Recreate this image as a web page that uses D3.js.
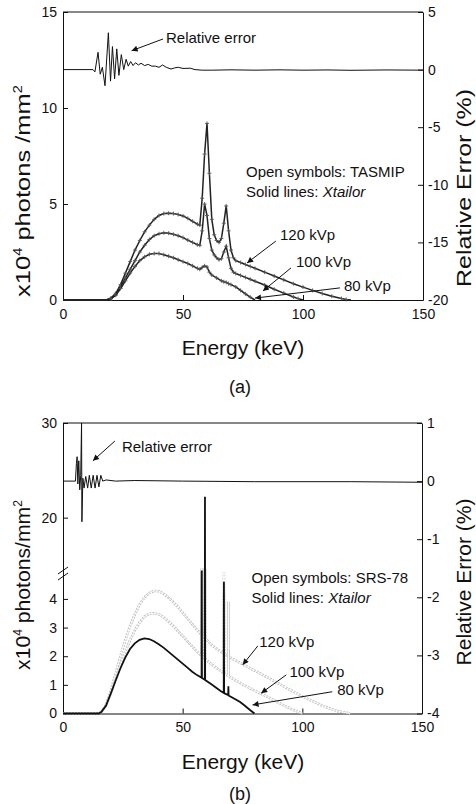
<!DOCTYPE html>
<html>
<head>
<meta charset="utf-8">
<title>X-ray spectra</title>
<style>
    body{ margin:0; padding:0; background:#fff; overflow:hidden; }
    svg text{ font-family:"Liberation Sans", Arial, Helvetica, sans-serif; fill:#111; }
</style>
</head>
<body>
<div id="chart"></div>
<script src="https://cdn.jsdelivr.net/npm/d3@7/dist/d3.min.js"></script>
<script>
// ---------- data: energy (keV) vs x10^4 photons/mm^2, relative error in % ----------
var energyTicks = [0, 50, 100, 150];
var leftTicksA = [0, 5, 10, 15];
var rightTicksA = [-20, -15, -10, -5, 0, 5];
var leftTicksB = [0, 1, 2, 3, 4, 20, 30];
var rightTicksB = [-4, -3, -2, -1, 0, 1];

// (a) TASMIP / Xtailor
var a120 = [[0,0],[10,0],[18,0],[20,0.1],[22,0.35],[24,0.8],[26,1.4],[28,2.0],[30,2.6],[32,3.1],[34,3.55],[36,3.9],[38,4.2],[40,4.4],[42,4.5],[44,4.52],[46,4.5],[48,4.45],[50,4.38],[52,4.25],[54,4.1],[56,3.95],[57,3.9],[58,5.3],[59,7.6],[60,9.2],[61,6.6],[62,4.2],[63,3.4],[64,3.1],[65,3.0],[66,3.2],[67,4.0],[68,4.9],[69,3.6],[70,2.6],[71,2.2],[72,2.05],[74,1.95],[76,1.85],[78,1.75],[80,1.65],[84,1.45],[88,1.25],[92,1.05],[96,0.85],[100,0.67],[104,0.5],[108,0.34],[112,0.2],[116,0.08],[118,0.03],[120,0]];
var a100 = [[0,0],[10,0],[18,0],[20,0.08],[22,0.3],[24,0.7],[26,1.15],[28,1.6],[30,2.05],[32,2.5],[34,2.85],[36,3.15],[38,3.35],[40,3.45],[42,3.5],[44,3.48],[46,3.42],[48,3.35],[50,3.25],[52,3.12],[54,3.0],[56,2.88],[57,2.85],[58,3.6],[59,5.0],[60,4.4],[61,3.2],[62,2.6],[63,2.35],[64,2.2],[65,2.1],[66,2.15],[67,2.5],[68,2.8],[69,2.2],[70,1.65],[71,1.45],[72,1.38],[74,1.28],[76,1.18],[78,1.08],[80,0.98],[84,0.78],[88,0.56],[92,0.36],[96,0.16],[98,0.07],[100,0]];
var a80 = [[0,0],[10,0],[18,0],[20,0.06],[22,0.25],[24,0.6],[26,1.0],[28,1.4],[30,1.75],[32,2.05],[34,2.25],[36,2.38],[38,2.42],[40,2.42],[42,2.36],[44,2.28],[46,2.2],[48,2.1],[50,2.0],[52,1.9],[54,1.78],[56,1.65],[57,1.6],[58,1.7],[59,1.78],[60,1.72],[61,1.45],[62,1.3],[64,1.15],[66,1.0],[67,0.95],[68,0.92],[69,0.85],[70,0.8],[72,0.68],[74,0.5],[76,0.32],[78,0.15],[80,0]];
var errA = [[0,0],[12.5,0],[13.3,-0.2],[14.6,1.5],[15.5,-0.4],[16.4,0.2],[17.5,-1.4],[18.9,3.2],[19.8,-1.0],[20.6,2.0],[21.5,-0.8],[22.4,1.8],[23.3,-0.5],[24.3,1.3],[25.3,0.0],[26.3,0.9],[27.2,0.3],[28.2,0.7],[29.2,0.35],[30.2,0.6],[31.4,0.4],[32.5,0.55],[34,0.35],[35.5,0.45],[37,0.3],[38.5,0.3],[40,0.2],[41.5,0.4],[43,0.2],[45,0.05],[46.5,0.15],[48,0.2],[50,0.1],[53,0.12],[55,0.0],[58,-0.05],[62,-0.05],[70,-0.02],[80,-0.05],[90,-0.02],[100,-0.05],[110,-0.03],[120,-0.06],[135,-0.03],[150,-0.05]];

// (b) SRS-78 / Xtailor (spikes = characteristic lines)
var b120 = [[0,0],[15,0],[16,0.05],[18,0.3],[20,0.8],[22,1.4],[24,2.0],[26,2.55],[28,3.05],[30,3.45],[32,3.8],[34,4.05],[36,4.2],[38,4.28],[40,4.27],[42,4.18],[44,4.05],[46,3.9],[48,3.72],[50,3.52],[52,3.32],[54,3.12],[56,2.92],[57.9,2.75],[57.98,12],[58.06,2.74],[59.24,2.64],[59.32,12],[59.4,2.63],[62,2.4],[64,2.27],[66,2.15],[67.16,2.09],[67.24,8],[67.32,2.08],[69.02,2.0],[69.1,3.9],[69.18,1.99],[72,1.86],[75,1.72],[80,1.5],[85,1.28],[90,1.05],[95,0.82],[100,0.6],[105,0.4],[110,0.22],[115,0.08],[120,0]];
var b100 = [[0,0],[15,0],[16,0.05],[18,0.28],[20,0.72],[22,1.2],[24,1.7],[26,2.15],[28,2.55],[30,2.9],[32,3.18],[34,3.38],[36,3.48],[38,3.5],[40,3.46],[42,3.36],[44,3.22],[46,3.06],[48,2.88],[50,2.7],[52,2.52],[54,2.34],[56,2.16],[57.9,2.02],[57.98,9],[58.06,2.01],[59.24,1.92],[59.32,11],[59.4,1.91],[62,1.72],[64,1.6],[66,1.48],[67.16,1.42],[67.24,4.2],[67.32,1.41],[69.02,1.31],[69.1,2.2],[69.18,1.3],[72,1.16],[75,1.02],[80,0.8],[85,0.6],[90,0.38],[95,0.17],[100,0]];
var b80 = [[0,0],[15,0],[16,0.05],[18,0.28],[20,0.7],[22,1.15],[24,1.58],[26,1.95],[28,2.25],[30,2.45],[32,2.57],[34,2.62],[36,2.6],[38,2.52],[40,2.42],[42,2.3],[44,2.16],[46,2.02],[48,1.88],[50,1.74],[52,1.6],[54,1.46],[56,1.34],[57.9,1.25],[57.98,10],[58.06,1.24],[59.24,1.18],[59.32,22.2],[59.4,1.17],[62,1.02],[64,0.9],[66,0.78],[67.16,0.72],[67.24,4.6],[67.32,0.71],[69.02,0.64],[69.1,0.95],[69.18,0.63],[72,0.5],[74,0.4],[76,0.27],[78,0.13],[80,0]];
var errB = [[0,0],[5.2,0],[5.6,0.3],[5.9,0.42],[6.2,-0.05],[6.6,0.35],[7.0,-0.15],[7.4,0.1],[7.75,1.0],[7.9,-0.7],[8.3,0.05],[8.8,-0.12],[9.5,0.08],[10.3,-0.12],[11.0,0.1],[11.8,-0.12],[12.6,0.1],[13.4,-0.12],[14.2,0.1],[15.0,-0.1],[15.8,0.1],[16.6,0.0],[18,0.02],[22,0],[30,0.01],[50,0],[80,-0.01],[120,-0.01],[150,-0.02]];

// annotation anchors, in data units (keV, left-axis value / error %)
var kvpA = [
    {label:'120 kVp', at:[90.4,3.12], from:[88.7,3.07], to:[76.7,1.93]},
    {label:'100 kVp', at:[97.1,1.72], from:[95,1.67], to:[83.3,0.47]},
    {label:'80 kVp',  at:[117.1,0.47], from:[115.4,0.63], to:[80,0.1]}
];
var kvpB = [
    {label:'120 kVp', at:[82,2.32], from:[81.4,2.36], to:[75.1,1.7]},
    {label:'100 kVp', at:[94.6,1.28], from:[93.3,1.35], to:[82.8,0.71]},
    {label:'80 kVp',  at:[114.6,0.65], from:[112.5,0.76], to:[79.2,0.3]}
];

var W = 476, H = 804;
var svg = d3.select('#chart').append('svg').attr('width', W).attr('height', H);

svg.append('defs').append('marker')
    .attr('id', 'arrow').attr('viewBox', '0 0 10 10')
    .attr('refX', 10).attr('refY', 5)
    .attr('markerWidth', 8).attr('markerHeight', 6)
    .attr('markerUnits', 'userSpaceOnUse')
    .attr('orient', 'auto')
  .append('path').attr('d', 'M0,0L10,5L0,10z').attr('fill', '#111');

function styleAxis(g){
    g.attr('font-family', null).attr('font-size', null);
    g.selectAll('text').style('font-size', '14px');
    g.selectAll('path,line').attr('stroke', '#111');
}

// parts: [text, dy, isSuperscript]
function vTitle(g, parts, cx, cy, len){
    var t = g.append('text').attr('text-anchor', 'middle').style('font-size', '21px');
    parts.forEach(function(p){
        var ts = t.append('tspan').text(p[0]);
        if (p[1]) ts.attr('dy', p[1]);
        if (p[2]) ts.style('font-size', '12px');
    });
    var w = t.node().getComputedTextLength();
    t.attr('transform', 'translate(' + cx + ',' + cy + ') rotate(-90) scale(' + (len / w) + ',1)');
}

function panel(p){
    var g = svg.append('g');
    var x = d3.scaleLinear().domain([0, 150]).range([63, p.right]);
    var y = p.y, e = p.err;
    var top = y.range()[y.range().length - 1], bottom = y.range()[0];

    // axes (ticks inward)
    g.append('g').attr('transform', 'translate(0,' + bottom + ')')
        .call(d3.axisBottom(x).tickValues(energyTicks).tickSizeInner(-5).tickSizeOuter(0).tickPadding(9))
        .call(styleAxis);
    g.append('g').attr('transform', 'translate(63,0)')
        .call(d3.axisLeft(y).tickValues(p.leftTicks).tickSizeInner(-5).tickSizeOuter(0).tickPadding(6))
        .call(styleAxis);
    g.append('g').attr('transform', 'translate(' + p.right + ',0)')
        .call(d3.axisRight(e).tickValues(p.rightTicks).tickFormat(function(d){ return String(d); })
            .tickSizeInner(-5).tickSizeOuter(0).tickPadding(5))
        .call(styleAxis);
    g.append('line').attr('x1', 63).attr('x2', p.right).attr('y1', top).attr('y2', top).attr('stroke', '#111');

    if (p.brk){
        var yb = p.brk;
        [0, 6].forEach(function(o){
            g.append('line').attr('x1', 58).attr('y1', yb + 4 + o).attr('x2', 68).attr('y2', yb - 3 + o)
                .attr('stroke', '#111').attr('stroke-width', 1);
        });
    }

    var line = d3.line().x(function(d){ return x(d[0]); }).y(function(d){ return y(d[1]); });
    var errLine = d3.line().x(function(d){ return x(d[0]); }).y(function(d){ return e(d[1]); });

    p.series.forEach(function(s){
        if (s.style === 'gray'){
            g.append('path').attr('d', line(s.data)).attr('fill', 'none')
                .attr('stroke', '#bdbdbd').attr('stroke-width', 2.6).attr('stroke-dasharray', '2,1');
            g.append('path').attr('d', line(s.data)).attr('fill', 'none')
                .attr('stroke', '#fff').attr('stroke-width', 0.9);
        } else if (s.style === 'black'){
            g.append('path').attr('d', line(s.data)).attr('fill', 'none')
                .attr('stroke', '#111').attr('stroke-width', 1.8);
        } else {
            g.append('path').attr('d', line(s.data)).attr('fill', 'none')
                .attr('stroke', '#222').attr('stroke-width', 1.5);
            g.selectAll(null).data(s.data.filter(function(d){ return d[1] > 0; })).enter()
                .append('path')
                .attr('transform', function(d){ return 'translate(' + x(d[0]) + ',' + y(d[1]) + ')'; })
                .attr('d', 'M-2,0H2M0,-2V2')
                .attr('stroke', '#555').attr('stroke-width', 0.9);
        }
    });

    g.append('path').attr('d', errLine(p.errData)).attr('fill', 'none')
        .attr('stroke', '#111').attr('stroke-width', 1);

    // relative error label + arrow
    var r = p.relNote;
    g.append('text').attr('x', x(r.at[0])).attr('y', e(r.at[1])).style('font-size', '15px').text('Relative error');
    g.append('line').attr('x1', x(r.from[0])).attr('y1', e(r.from[1]))
        .attr('x2', x(r.to[0])).attr('y2', e(r.to[1]))
        .attr('stroke', '#111').attr('stroke-width', 1).attr('marker-end', 'url(#arrow)');

    // legend notes
    g.append('text').attr('x', x(p.noteAt[0])).attr('y', y(p.noteAt[1])).style('font-size', '15px')
        .text('Open symbols: ' + p.model);
    var n2 = g.append('text').attr('x', x(p.noteAt[0])).attr('y', y(p.noteAt[1]) + 20).style('font-size', '15px');
    n2.append('tspan').text('Solid lines: ');
    n2.append('tspan').style('font-style', 'italic').text('Xtailor');

    p.kvp.forEach(function(k){
        g.append('text').attr('x', x(k.at[0])).attr('y', y(k.at[1])).style('font-size', '15px').text(k.label);
        g.append('line').attr('x1', x(k.from[0])).attr('y1', y(k.from[1]))
            .attr('x2', x(k.to[0])).attr('y2', y(k.to[1]))
            .attr('stroke', '#111').attr('stroke-width', 1).attr('marker-end', 'url(#arrow)');
    });

    // titles
    g.append('text').attr('x', 243).attr('y', p.xTitleY).attr('text-anchor', 'middle')
        .style('font-size', '21px').text('Energy (keV)');
    g.append('text').attr('x', 240).attr('y', p.tagY).attr('text-anchor', 'middle')
        .style('font-size', '18px').text(p.tag);
    vTitle(g, [['x10'], ['4', -8, true], [p.unitText, 8], ['2', -8, true]], 30, p.leftTitleC, p.leftTitleLen);
    vTitle(g, [['Relative Error (%)']], 471, p.rightTitleC, p.rightTitleLen);
}

panel({
    right: 423,
    y: d3.scaleLinear().domain([0, 15]).range([300, 12]),
    err: d3.scaleLinear().domain([-20, 5]).range([300, 12]),
    leftTicks: leftTicksA, rightTicks: rightTicksA,
    series: [{data:a120}, {data:a100}, {data:a80}],
    errData: errA,
    relNote: {at:[42.9, 2.3], from:[41.7, 2.66], to:[28.6, 1.64]},
    model: 'TASMIP', noteAt: [76.25, 6.4],
    kvp: kvpA,
    xTitleY: 355, tag: '(a)', tagY: 393,
    unitText: ' photons /mm',
    leftTitleC: 191, leftTitleLen: 212,
    rightTitleC: 188, rightTitleLen: 198
});

panel({
    right: 422,
    y: d3.scaleLinear().domain([0, 4.8, 15, 30]).range([713.5, 576, 565, 423]),
    err: d3.scaleLinear().domain([-4, 1]).range([713.5, 423]),
    leftTicks: leftTicksB, rightTicks: rightTicksB,
    brk: 570,
    series: [{data:b120, style:'gray'}, {data:b100, style:'gray'}, {data:b80, style:'black'}],
    errData: errB,
    relNote: {at:[24.6, 0.5], from:[21.7, 0.69], to:[12.5, 0.35]},
    model: 'SRS-78', noteAt: [78.75, 4.56],
    kvp: kvpB,
    xTitleY: 769, tag: '(b)', tagY: 800,
    unitText: ' photons/mm',
    leftTitleC: 585, leftTitleLen: 170,
    rightTitleC: 582, rightTitleLen: 167
});
</script>
</body>
</html>
